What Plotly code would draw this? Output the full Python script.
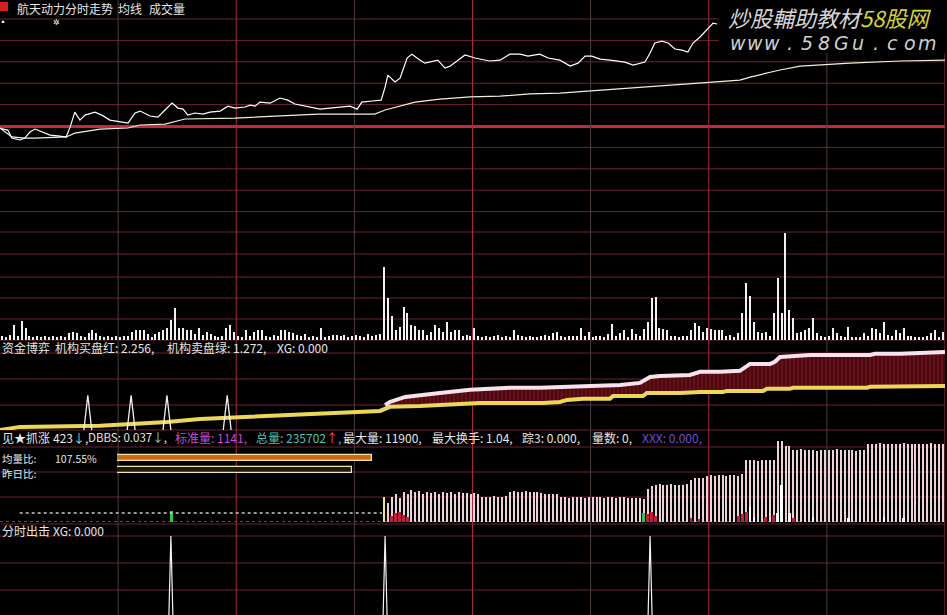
import plotly.graph_objects as go

W, H = 947, 615
FONT = "Noto Sans CJK SC, Noto Sans, sans-serif"

# ---------------- data ----------------
# price panel: minutes after open, % change vs prior close
price_min = [0, 2.0, 3.0, 5.1, 6.3, 7.6, 8.9, 10.7, 12.7, 15.2, 16.8, 17.8, 19.0, 20.3, 21.6, 24.1,
             25.9, 27.9, 30.5, 32.5, 34.3, 35.6, 38.1, 40.1, 41.9, 43.7, 45.2, 46.5, 47.7, 49.5, 51.6,
             53.3, 55.9, 57.9, 59.7, 62.2, 63.5, 64.8, 66.0, 68.6, 71.1, 73.1, 74.9, 77.5, 78.7, 81.3,
             83.8, 86.3, 88.9, 90.7, 91.9, 94.5, 96.8, 97.8, 98.5, 100.3, 101.6, 103.4, 104.6, 106.7,
             107.9, 111.2, 113.0, 114.3, 118.1, 120.6, 124.4, 127.0, 129.5, 132.1, 134.1, 137.1, 139.2,
             142.2, 144.8, 146.8, 148.6, 150.3, 152.4, 154.9, 158.7, 160.8, 162.5, 163.8, 165.1, 166.3,
             168.1, 169.7, 171.4, 173.2, 174.7, 176.0, 177.8, 179.6, 181.1, 182.1]
price_pct = [-0.11, -0.19, -0.56, -0.65, -0.56, -0.28, -0.14, -0.28, -0.42, -0.47, -0.51, -0.05, 0.65,
             0.28, 0.51, 0.65, 0.51, 0.28, 0.19, 0.14, 0.61, 0.70, 0.47, 0.42, 0.75, 1.07, 0.84, 0.79,
             0.51, 0.61, 0.56, 0.65, 0.70, 0.93, 0.84, 0.89, 0.98, 0.93, 1.12, 1.07, 1.31, 1.21, 1.03,
             0.93, 0.89, 0.79, 0.84, 0.89, 0.93, 0.79, 1.12, 1.17, 1.21, 1.82, 2.38, 2.06, 2.24, 3.18,
             3.36, 3.08, 2.94, 3.08, 2.71, 2.80, 3.32, 3.18, 3.04, 3.08, 3.36, 3.36, 3.27, 3.36, 3.18,
             3.08, 2.80, 2.94, 3.27, 3.27, 3.13, 3.08, 2.99, 2.85, 2.94, 2.99, 3.41, 3.88, 3.97, 3.88,
             3.60, 3.55, 3.46, 3.88, 4.16, 4.53, 4.81, 4.77]
avg_min = [0, 3.0, 6.3, 8.9, 16.8, 19.0, 25.4, 32.5, 35.6, 41.9, 47.0, 59.7, 80.8, 95.2, 97.8, 101.6,
           105.4, 111.7, 119.4, 127.0, 134.6, 142.2, 152.4, 162.5, 177.8, 187.9, 190.5, 198.1, 203.2,
           215.9, 228.6, 240]
avg_pct = [-0.09, -0.51, -0.56, -0.56, -0.51, -0.33, -0.14, -0.09, 0.05, 0.09, 0.33, 0.37, 0.56, 0.56,
           0.75, 0.93, 1.12, 1.26, 1.36, 1.40, 1.50, 1.54, 1.68, 1.82, 2.01, 2.15, 2.29, 2.62, 2.80,
           2.94, 3.04, 3.08]

# volume per minute (lots)
volume = [440, 330, 560, 1670, 440, 2110, 1330, 440, 330, 440,
          330, 440, 330, 440, 330, 440, 330, 780, 890, 780,
          440, 330, 780, 1110, 780, 440, 330, 440, 330, 440,
          330, 440, 440, 890, 1110, 1110, 1110, 670, 330, 670,
          890, 1110, 1330, 2220, 3560, 1330, 1330, 1110, 1110, 670,
          1330, 560, 890, 670, 440, 330, 440, 1330, 1670, 890,
          440, 330, 1110, 440, 890, 1110, 1110, 440, 330, 560,
          440, 1110, 1110, 890, 780, 560, 440, 670, 330, 440,
          330, 1330, 330, 440, 560, 560, 440, 560, 330, 440,
          560, 440, 330, 670, 440, 560, 670, 8120, 4670, 2670,
          1110, 1440, 3670, 3000, 1670, 1560, 1110, 1110, 560, 890,
          1670, 1330, 890, 2000, 890, 1110, 1110, 440, 560, 440,
          1330, 440, 330, 440, 330, 440, 560, 330, 440, 330,
          1110, 560, 440, 330, 440, 330, 330, 440, 560, 440,
          780, 890, 440, 330, 440, 440, 440, 1330, 440, 890,
          330, 440, 440, 330, 670, 1780, 440, 780, 1110, 330,
          1220, 670, 440, 1220, 2000, 4670, 4780, 1330, 1220, 1110,
          440, 440, 330, 440, 440, 1110, 1890, 1560, 890, 1330,
          1220, 1110, 1110, 1110, 440, 560, 330, 780, 3000, 6340,
          4890, 2000, 890, 780, 890, 440, 3000, 6900, 3000, 11900,
          3340, 2450, 780, 890, 1110, 1330, 2450, 780, 440, 330,
          440, 1330, 780, 440, 330, 1440, 330, 330, 330, 780,
          440, 1330, 1220, 780, 2000, 560, 440, 1110, 780, 1330,
          440, 440, 330, 330, 330, 440, 780, 1110, 330, 890]

# 资金博弈 panel
sell_min = [0, 5.1, 25.4, 42.4, 50.8, 63.5, 83.8, 96.5, 99.0, 106.7, 121.9, 137.9, 142.2, 144.0, 148.1,
            154.9, 155.7, 163.3, 164.3, 172.7, 177.8, 183.6, 184.6, 193.8, 194.8, 200.6, 201.4, 220.2,
            221.0, 240]
sell_val = [0.0, 0.09, 0.12, 0.23, 0.32, 0.38, 0.49, 0.55, 0.67, 0.69, 0.78, 0.78, 0.81, 0.87, 0.90,
            0.90, 0.98, 0.98, 1.07, 1.07, 1.10, 1.10, 1.13, 1.13, 1.19, 1.19, 1.22, 1.22, 1.25, 1.272]
buy_min = [97.8, 99.0, 102.9, 106.7, 111.7, 119.4, 124.4, 129.5, 137.1, 146.0, 149.8, 157.5, 162.5,
           165.1, 167.6, 175.2, 177.8, 182.9, 187.9, 189.2, 190.5, 195.6, 196.8, 198.1, 203.2, 205.7,
           221.0, 222.2, 228.6, 240]
buy_val = [0.72, 0.81, 0.955, 1.01, 1.07, 1.16, 1.19, 1.22, 1.22, 1.245, 1.27, 1.30, 1.36, 1.53, 1.56,
           1.59, 1.68, 1.68, 1.71, 1.82, 1.91, 1.91, 1.97, 2.11, 2.14, 2.17, 2.17, 2.20, 2.20, 2.256]
xg3_min = [22.3, 33.3, 42.4, 57.7]
xg_level = 1.0

# 见★抓涨 panel
zl_first_min = 98
zl_val = [19,
          25, 28, 24, 30, 28, 32, 30, 31, 28, 30, 29, 30, 28, 30, 29, 30, 28, 30, 29, 29, 28, 29, 28,
          25, 25, 25, 26, 25, 25, 26,
          30, 31, 30, 30, 31, 30, 30, 30, 29,
          28, 28, 28, 28,
          25, 25, 24, 25, 25, 25, 24, 25, 25, 25, 25, 24, 25, 25, 24, 25, 25, 24, 24, 24, 24,
          23, 33, 36,
          37, 38, 37, 37, 38, 37, 37, 37, 38,
          42, 44, 44, 44,
          46, 47, 46, 47, 47, 46, 47, 47, 46,
          48,
          62, 62, 62, 61, 62, 62, 62, 62,
          81, 81, 76, 76,
          72, 72, 73, 72, 72, 72, 71, 72, 72, 72, 72, 73, 72, 72, 72, 72, 71, 72, 72,
          78, 78, 78, 79, 78, 78, 78, 78, 78, 79, 78, 78, 78, 78, 78, 78, 79, 78, 78, 78]
yl_min = [97]
yl_val = [25]
big_min = [190, 191, 197, 198, 200, 206, 215, 224, 229]
big_val = [15, 5, 9, 37, 9, 5, 4, 5, 4]
red_min = [99, 100, 101, 102, 103, 164, 165, 166, 175, 177, 187, 188, 189, 194, 196, 197, 200, 201]
red_val = [6, 9, 10, 7, 5, 8, 10, 6, 4, 3, 6, 8, 10, 5, 7, 9, 6, 4]
green_min = [43, 163]
green_val = [11, 9]
std_line_from, std_line_to, std_line_level = 5, 97, 9
ratio_names = ["均量比", "昨日比"]
ratio_vals = [107.55, 99.1]

# 分时出击 panel
xg5_min = [43.4, 97.8, 165.1]

# ---------------- helpers ----------------
def px(x):
    return x / W


def py(y):
    return 1 - y / H


fig = go.Figure()

# price panel
fig.add_trace(go.Scatter(x=avg_min, y=avg_pct, mode="lines", yaxis="y",
                         line=dict(color="#f3efd8", width=1.2), hoverinfo="skip"))
fig.add_trace(go.Scatter(x=price_min, y=price_pct, mode="lines", yaxis="y",
                         line=dict(color="#ffffff", width=1.2), hoverinfo="skip"))

# volume panel
vol_x = [i + 0.5 for i in range(len(volume))]
fig.add_trace(go.Bar(x=vol_x, y=volume, width=0.28, yaxis="y2",
                     marker=dict(color="#f2f2f2", line=dict(width=0)), hoverinfo="skip"))

# 资金博弈 panel
start = buy_min[0]
poly_x = buy_min + [m for m in reversed(sell_min) if m >= start]
poly_y = buy_val + [v for m, v in zip(reversed(sell_min), reversed(sell_val)) if m >= start]
fig.add_trace(go.Scatter(x=poly_x, y=poly_y, mode="lines", fill="toself", yaxis="y3",
                         line=dict(width=0), fillcolor="#4e0a12",
                         fillpattern=dict(shape="|", fgcolor="#a4202e", bgcolor="#4a0810",
                                          size=4, solidity=0.3),
                         hoverinfo="skip"))
fig.add_trace(go.Scatter(x=sell_min, y=sell_val, mode="lines", yaxis="y3",
                         line=dict(color="#ecd75a", width=4), hoverinfo="skip"))
fig.add_trace(go.Scatter(x=buy_min, y=buy_val, mode="lines", yaxis="y3",
                         line=dict(color="#f6e2ec", width=4), hoverinfo="skip"))
sx, sy = [], []
for m in xg3_min:
    sx += [m - 1, m, m + 1, None]
    sy += [0, xg_level, 0, None]
fig.add_trace(go.Scatter(x=sx, y=sy, mode="lines", yaxis="y3",
                         line=dict(color="#f0f0f0", width=1.3), hoverinfo="skip"))

# 见★抓涨 panel
zl_x = [zl_first_min + i + 0.5 for i in range(len(zl_val))]
fig.add_trace(go.Scatter(x=[std_line_from, std_line_to], y=[std_line_level, std_line_level],
                         mode="lines", yaxis="y4",
                         line=dict(color="#c8c8c8", width=1.5, dash="dot"), hoverinfo="skip"))
fig.add_trace(go.Bar(x=zl_x, y=zl_val, width=0.26, yaxis="y4",
                     marker=dict(color="#ecd0da", line=dict(width=0)), hoverinfo="skip"))
fig.add_trace(go.Bar(x=[m + 0.5 for m in yl_min], y=yl_val, width=0.7, yaxis="y4",
                     marker=dict(color="#f2e08a", line=dict(width=0)), hoverinfo="skip"))
fig.add_trace(go.Bar(x=[m + 0.5 for m in red_min], y=red_val, width=0.7, yaxis="y4",
                     marker=dict(color="#c0203c", line=dict(width=0)), hoverinfo="skip"))
fig.add_trace(go.Bar(x=[m + 0.5 for m in green_min], y=green_val, width=0.7, yaxis="y4",
                     marker=dict(color="#30c848", line=dict(width=0)), hoverinfo="skip"))
fig.add_trace(go.Bar(x=[m + 0.5 for m in big_min], y=big_val, width=0.7, yaxis="y4",
                     marker=dict(color="#ffffff", line=dict(width=0)), hoverinfo="skip"))
fig.add_trace(go.Bar(x=ratio_vals, y=[0, 1], orientation="h", width=0.5,
                     xaxis="x2", yaxis="y6",
                     marker=dict(color=["#cc6a1c", "#201808"],
                                 line=dict(color=["#f4e4a0", "#ece6b8"], width=1.2)),
                     hoverinfo="skip"))

# 分时出击 panel
fx, fy = [], []
for m in xg5_min:
    fx += [m - 1, m, m + 1, None]
    fy += [0, xg_level, 0, None]
fig.add_trace(go.Scatter(x=fx, y=fy, mode="lines", yaxis="y5",
                         line=dict(color="#f4f4f4", width=1.2), hoverinfo="skip"))

# ---------------- grid (decoration) ----------------
shapes = []
hline_px = [19, 40.4, 61.8, 83.2, 104.6, 147.4, 168.8, 190.2, 211.6, 232,
            254, 277, 298, 319, 340, 353, 379, 405, 430, 447, 472, 497, 524, 536, 563, 590]
for yy in hline_px:
    shapes.append(dict(type="line", xref="paper", yref="paper", x0=0, x1=px(945),
                       y0=py(yy), y1=py(yy), line=dict(color="#6e2232", width=1), layer="below"))
shapes.append(dict(type="line", xref="paper", yref="paper", x0=0, x1=px(945),
                   y0=py(126.5), y1=py(126.5), line=dict(color="#c4283a", width=3), layer="below"))
shapes.append(dict(type="line", xref="paper", yref="paper", x0=0, x1=px(945),
                   y0=py(521.5), y1=py(521.5), line=dict(color="#a03048", width=1, dash="dot"),
                   layer="below"))
for m in range(30, 241, 30):
    col = "#a82a3c" if m % 60 == 0 else "#4e3c44"
    shapes.append(dict(type="line", xref="x", yref="paper", x0=m, x1=m, y0=0, y1=1,
                       line=dict(color=col, width=1), layer="below"))
# title icon
shapes.append(dict(type="rect", xref="paper", yref="paper", x0=px(0), x1=px(8), y0=py(11), y1=py(2),
                   fillcolor="#d42020", line=dict(width=0), layer="above"))
# watermark box
shapes.append(dict(type="rect", xref="paper", yref="paper", x0=px(719), x1=1, y0=py(53), y1=1,
                   fillcolor="#000000", line=dict(width=0), layer="above"))

ann = []


def text(x, y, s, color="#e6e6e6", size=12, family=FONT, xanchor="left"):
    ann.append(dict(x=px(x), y=py(y), xref="paper", yref="paper", text=s, showarrow=False,
                    xanchor=xanchor, yanchor="middle",
                    font=dict(family=family, size=size, color=color)))


text(15, 8, "航天动力分时走势")
text(116, 8, "均线")
text(147, 8, "成交量")
text(3, 21, "▪", color="#ffffff", size=8, xanchor="center")
text(56, 22, "✲", color="#ffffff", size=8, xanchor="center")

# watermark
text(726, 17, "<i>炒股輔助教材<span style='color:#d4d43a'>58股网</span></i>", color="#d6d6d6", size=22)
for i, ch in enumerate("www.58Gu.com"):
    text(738 + i * 17.2, 43, "<i>" + ch + "</i>", color="#cfcfcf", size=19,
         family="DejaVu Sans", xanchor="center")

# panel titles
text(0, 347, "资金博弈")
text(53, 347, "机构买盘红: 2.256,")
text(165, 347, "机构卖盘绿: 1.272,")
text(275, 347, "XG: 0.000")

text(0, 437, "见★抓涨")
text(51, 437, "423<span style='color:#80e0e0'>↓</span>,")
text(86, 437, "DBBS: 0.037<span style='color:#80e0e0'>↓</span>,", size=11.5)
text(173, 437, "标准量: 1141,", color="#c846d0")
text(254, 437, "总量: 235702<span style='color:#ff5060'>↑</span>,", color="#50c0b0")
text(341, 437, "最大量: 11900,")
text(430, 437, "最大换手: 1.04,")
text(520, 437, "踪3: 0.000,")
text(590, 437, "量数: 0,")
text(640, 437, "XXX: 0.000,", color="#7050d0")

text(0, 458, "均量比:", size=10.5)
text(53, 458, "107.55%", size=10.5)
text(0, 473, "昨日比:", size=10.5)

text(0, 530, "分时出击")
text(51, 530, "XG: 0.000")

fig.update_layout(
    width=W, height=H,
    margin=dict(l=0, r=0, t=0, b=0),
    paper_bgcolor="#000000", plot_bgcolor="rgba(0,0,0,0)",
    showlegend=False, barmode="overlay", bargap=0,
    xaxis=dict(domain=[0, px(945)], range=[0, 240], visible=False, fixedrange=True),
    yaxis=dict(domain=[py(232), 1], range=[-4.95, 5.89], visible=False, anchor="x"),
    yaxis2=dict(domain=[py(340), py(232)], range=[0, 12000], visible=False, anchor="x"),
    yaxis3=dict(domain=[py(430), py(340)], range=[0, 2.6], visible=False, anchor="x"),
    yaxis4=dict(domain=[py(524), py(430)], range=[-2, 92], visible=False, anchor="x"),
    yaxis5=dict(domain=[0, py(524)], range=[0.5, 1.076], visible=False, anchor="x"),
    xaxis2=dict(domain=[px(117), px(945)], range=[0, 349], visible=False, anchor="y6"),
    yaxis6=dict(domain=[py(476), py(452)], range=[1.5, -0.5], visible=False, anchor="x2"),
    shapes=shapes, annotations=ann,
)

fig.write_html("out.html", config={"displayModeBar": False},
               post_script="document.body.style.margin='0';document.body.style.backgroundColor='#000';")
